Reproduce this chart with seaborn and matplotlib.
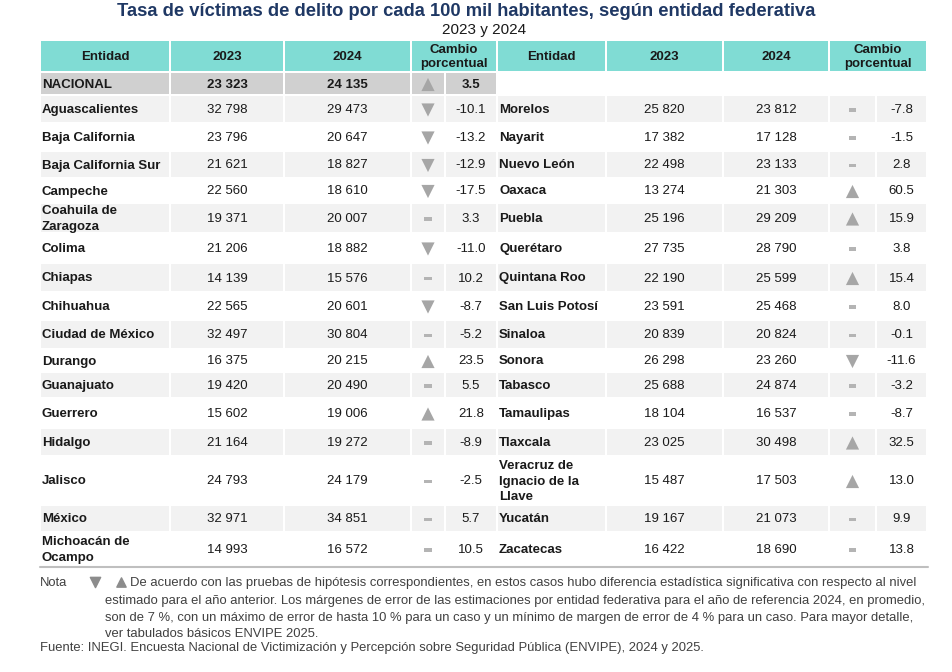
import matplotlib
matplotlib.use("Agg")
import matplotlib.pyplot as plt
import pandas as pd
import seaborn as sns
from matplotlib.patches import Rectangle
from matplotlib.path import Path

# ---- data ----
left_names = ["Aguascalientes", "Baja California", "Baja California Sur", "Campeche",
              "Coahuila de\nZaragoza", "Colima", "Chiapas", "Chihuahua",
              "Ciudad de México", "Durango", "Guanajuato", "Guerrero", "Hidalgo",
              "Jalisco", "México", "Michoacán de\nOcampo"]
left_2023 = [32798, 23796, 21621, 22560, 19371, 21206, 14139, 22565,
             32497, 16375, 19420, 15602, 21164, 24793, 32971, 14993]
left_2024 = [29473, 20647, 18827, 18610, 20007, 18882, 15576, 20601,
             30804, 20215, 20490, 19006, 19272, 24179, 34851, 16572]
left_change = [-10.1, -13.2, -12.9, -17.5, 3.3, -11.0, 10.2, -8.7,
               -5.2, 23.5, 5.5, 21.8, -8.9, -2.5, 5.7, 10.5]
left_sig = ["down", "down", "down", "down", "ns", "down", "ns", "down",
            "ns", "up", "ns", "up", "ns", "ns", "ns", "ns"]

right_names = ["Morelos", "Nayarit", "Nuevo León", "Oaxaca", "Puebla", "Querétaro",
               "Quintana Roo", "San Luis Potosí", "Sinaloa", "Sonora", "Tabasco",
               "Tamaulipas", "Tlaxcala", "Veracruz de\nIgnacio de la\nLlave",
               "Yucatán", "Zacatecas"]
right_2023 = [25820, 17382, 22498, 13274, 25196, 27735, 22190, 23591,
              20839, 26298, 25688, 18104, 23025, 15487, 19167, 16422]
right_2024 = [23812, 17128, 23133, 21303, 29209, 28790, 25599, 25468,
              20824, 23260, 24874, 16537, 30498, 17503, 21073, 18690]
right_change = [-7.8, -1.5, 2.8, 60.5, 15.9, 3.8, 15.4, 8.0,
                -0.1, -11.6, -3.2, -8.7, 32.5, 13.0, 9.9, 13.8]
right_sig = ["ns", "ns", "ns", "up", "up", "ns", "up", "ns",
             "ns", "down", "ns", "ns", "up", "up", "ns", "ns"]

national = ("NACIONAL", 23323, 24135, 3.5, "up")

headers = ["Entidad", "2023", "2024", "Cambio\nporcentual"]

# ---- layout (pixels) ----
W, H = 952, 672
left_cols = [40, 170, 284, 411, 445, 497]
right_cols = [497, 606, 723, 829, 876, 927]
header_top, header_bot = 40, 72
nat_top, nat_bot = 72, 95
row_edges = [95, 123, 151, 178, 203, 233, 263, 292, 320, 349, 372, 398,
             428, 456, 505, 532, 566]

HEAD = "#80dcd4"
STRIPE = "#f2f2f2"
NATGRAY = "#d0d0d0"
MARK = "#a6a6a6"
TXT = "#1a1a1a"
FONT = ["Liberation Sans", "DejaVu Sans"]

sns.set_theme(style="white")
plt.rcParams["font.family"] = FONT

fig = plt.figure(figsize=(W / 100, H / 100), dpi=100)
ax = fig.add_axes([0, 0, 1, 1])


def fmt(v):
    return f"{v:,}".replace(",", " ")


def cell(x0, x1, y0, y1, color):
    ax.add_patch(Rectangle((x0 + 1, y0 + 1), x1 - x0 - 2, y1 - y0 - 2,
                           facecolor=color, edgecolor="none", zorder=1))


# title
ax.text(466, 11, "Tasa de víctimas de delito por cada 100 mil habitantes, según entidad federativa",
        ha="center", va="center", fontsize=13.2, fontweight="bold", color="#1f3864")
ax.text(484, 30, "2023 y 2024", ha="center", va="center", fontsize=11, color=TXT)

# header
for cols in (left_cols, right_cols):
    spans = [(cols[0], cols[1]), (cols[1], cols[2]), (cols[2], cols[3]), (cols[3], cols[5])]
    for (a, b), label in zip(spans, headers):
        cell(a, b, header_top, header_bot, HEAD)
        ax.text((a + b) / 2, (header_top + header_bot) / 2 + 1, label, ha="center",
                va="center", fontsize=9.5, fontweight="bold", color=TXT, linespacing=1.3)

# national row
c = left_cols
for a, b in zip(c[:-1], c[1:]):
    cell(a, b, nat_top, nat_bot, NATGRAY)
ny = (nat_top + nat_bot) / 2 + 1
ax.text(c[0] + 2, ny, national[0], ha="left", va="center", fontsize=9.5, fontweight="bold", color=TXT)
ax.text((c[1] + c[2]) / 2, ny, fmt(national[1]), ha="center", va="center", fontsize=9.5, fontweight="bold", color=TXT)
ax.text((c[2] + c[3]) / 2, ny, fmt(national[2]), ha="center", va="center", fontsize=9.5, fontweight="bold", color=TXT)
ax.text((c[4] + c[5]) / 2, ny, f"{national[3]:.1f}", ha="center", va="center", fontsize=9.5, fontweight="bold", color=TXT)

# body rows
marks = [{"x": (c[3] + c[4]) / 2, "y": ny, "sig": national[4]}]
for i in range(len(left_names)):
    y0, y1 = row_edges[i], row_edges[i + 1]
    yc = (y0 + y1) / 2 + 1
    for cols, names, v23, v24, chg, sig in (
            (left_cols, left_names, left_2023, left_2024, left_change, left_sig),
            (right_cols, right_names, right_2023, right_2024, right_change, right_sig)):
        if i % 2 == 0:
            for a, b in zip(cols[:-1], cols[1:]):
                cell(a, b, y0, y1, STRIPE)
        ax.text(cols[0] + 2, yc, names[i], ha="left", va="center", fontsize=9.5,
                fontweight="bold", color=TXT, linespacing=1.4)
        ax.text((cols[1] + cols[2]) / 2, yc, fmt(v23[i]), ha="center", va="center", fontsize=9.5, color=TXT)
        ax.text((cols[2] + cols[3]) / 2, yc, fmt(v24[i]), ha="center", va="center", fontsize=9.5, color=TXT)
        ax.text((cols[4] + cols[5]) / 2, yc, f"{chg[i]:.1f}", ha="center", va="center", fontsize=9.5, color=TXT)
        marks.append({"x": (cols[3] + cols[4]) / 2, "y": yc, "sig": sig[i]})

ax.plot([40, 928], [row_edges[-1] + 1, row_edges[-1] + 1], color="#bfbfbf", lw=1.5, zorder=2)

bar = Path([(-1, -0.5), (1, -0.5), (1, 0.5), (-1, 0.5), (-1, -0.5)],
           [Path.MOVETO, Path.LINETO, Path.LINETO, Path.LINETO, Path.CLOSEPOLY])
mdf = pd.DataFrame(marks)
for sig, mk, size, col in (("up", "^", 90, MARK), ("down", "v", 90, MARK), ("ns", bar, 28, "#b4b4b4")):
    sub = mdf[mdf["sig"] == sig]
    sns.scatterplot(data=sub, x="x", y="y", marker=mk, s=size, color=col,
                    edgecolor="none", linewidth=0, ax=ax, zorder=3, legend=False)
ax.set_xlim(0, W)
ax.set_ylim(H, 0)
ax.axis("off")

# notes
NC = "#404040"
NS = 9.4
ax.text(40, 583, "Nota", ha="left", va="center", fontsize=NS, color=NC)
ax.scatter([95], [582], marker="v", s=55, color="#8c8c8c", zorder=3)
ax.scatter([121], [582], marker="^", s=45, color="#8c8c8c", zorder=3)
note_lines = [
    (130, 583, "De acuerdo con las pruebas de hipótesis correspondientes, en estos casos hubo diferencia estadística significativa con respecto al nivel"),
    (105, 601, "estimado para el año anterior. Los márgenes de error de las estimaciones por entidad federativa para el año de referencia 2024, en promedio,"),
    (105, 618, "son de 7 %, con un máximo de error de hasta 10 % para un caso y un mínimo de margen de error de 4 % para un caso. Para mayor detalle,"),
    (105, 634, "ver tabulados básicos ENVIPE 2025."),
    (40, 648, "Fuente: INEGI. Encuesta Nacional de Victimización y Percepción sobre Seguridad Pública (ENVIPE), 2024 y 2025."),
]
for x, y, s in note_lines:
    ax.text(x, y, s, ha="left", va="center", fontsize=NS, color=NC)

fig.savefig("out.png", dpi=100)
